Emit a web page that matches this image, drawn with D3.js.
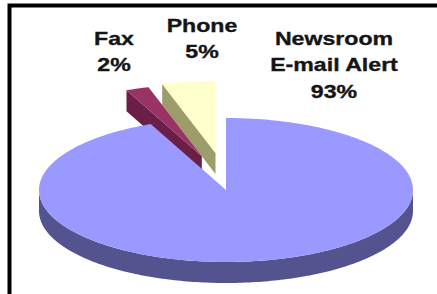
<!DOCTYPE html>
<html>
<head>
<meta charset="utf-8">
<script src="https://cdn.jsdelivr.net/npm/d3@7"></script>
<style>
  html, body { margin: 0; padding: 0; background: #fff; }
  svg { display: block; }
</style>
</head>
<body>
<svg id="chart" width="437" height="294"></svg>
<script>
// ---- data ----
const categories = ["Newsroom\nE-mail Alert", "Fax", "Phone"];
const values = [93.4, 2.0, 4.6];
const topColors = ["#9999ff", "#993366", "#ffffcc"];
const sideColors = ["#535390", "#6b1f47", "#9d9d6c"];

// ---- layout / style ----
const W = 437, H = 294;
const cx = 226, cy = 190, rx = 187, ry = 72, depth = 21;
const explode = [0, 0.5, 0.52];
const explodeKx = 0.75;
const labelAnchor = [[334, 45], [114, 45], [202, 32]];
const lineGap = 26.5;

const svg = d3.select("#chart");
svg.append("rect").attr("width", W).attr("height", H).attr("fill", "#fff");

const pie = d3.pie().sort(null).value(d => d);
const arcs = pie(values).map((a, i) => {
  const mid = (a.startAngle + a.endAngle) / 2;
  const e = explode[i];
  return {
    ...a, i,
    ox: Math.sin(mid) * e * rx * explodeKx,
    oy: -Math.cos(mid) * e * ry
  };
});

const xS = d3.scaleLinear().domain([-1, 1]).range([-rx, rx]);
const yS = d3.scaleLinear().domain([-1, 1]).range([ry, -ry]);

function pt(a, s, dz) {
  return [cx + s.ox + xS(Math.sin(a)), cy + s.oy + yS(Math.cos(a)) + dz];
}
function arcPts(a0, a1, s, dz) {
  const n = Math.max(2, Math.ceil(Math.abs(a1 - a0) / (Math.PI / 180)));
  return d3.range(n + 1).map(k => pt(a0 + (a1 - a0) * k / n, s, dz));
}
const line = d3.line();

// painter's order: back slices first
const order = arcs.slice().sort((p, q) => p.oy - q.oy);

order.forEach(s => {
  const g = svg.append("g");
  const apex = [cx + s.ox, cy + s.oy];
  const apexB = [apex[0], apex[1] + depth];
  // radial walls
  [[s.startAngle, -1], [s.endAngle, 1]].forEach(([a, sign]) => {
    const nv = sign * (-Math.sin(a));
    if (nv < -1e-6 && explode[s.i] > 0) {
      const p = pt(a, s, 0), pb = pt(a, s, depth);
      g.append("path").attr("d", line([apex, p, pb, apexB]) + "Z")
        .attr("fill", sideColors[s.i]);
    }
  });
  // outer wall (front part where cos a < 0)
  const lo = Math.max(s.startAngle, Math.PI / 2);
  const hi = Math.min(s.endAngle, 3 * Math.PI / 2);
  if (hi > lo) {
    const top = arcPts(lo, hi, s, 0);
    const bot = arcPts(hi, lo, s, depth);
    g.append("path").attr("d", line(top.concat(bot)) + "Z")
      .attr("fill", sideColors[s.i]);
  }
  // top face
  const topPts = [apex].concat(arcPts(s.startAngle, s.endAngle, s, 0));
  g.append("path").attr("d", line(topPts) + "Z")
    .attr("fill", topColors[s.i]);
});

// labels
const fmt = d3.format(".0f");
categories.forEach((c, i) => {
  const lines = c.split("\n").concat([fmt(values[i]) + "%"]);
  const g = svg.append("g")
    .attr("transform", `translate(${labelAnchor[i][0]},${labelAnchor[i][1]}) scale(1.25,1)`);
  lines.forEach((t, k) => {
    g.append("text")
      .attr("x", 0).attr("y", k * lineGap)
      .attr("text-anchor", "middle")
      .attr("font-family", "'Liberation Sans', Arial, sans-serif")
      .attr("font-weight", "bold")
      .attr("font-size", 18.5)
      .attr("fill", "#151515")
      .attr("stroke", "#151515")
      .attr("stroke-width", 0.35)
      .text(t);
  });
});

// frame (top and left edges)
svg.append("path")
  .attr("d", "M9.5,294 L9.5,5.5 L437,5.5")
  .attr("fill", "none").attr("stroke", "#000").attr("stroke-width", 4);
</script>
</body>
</html>
